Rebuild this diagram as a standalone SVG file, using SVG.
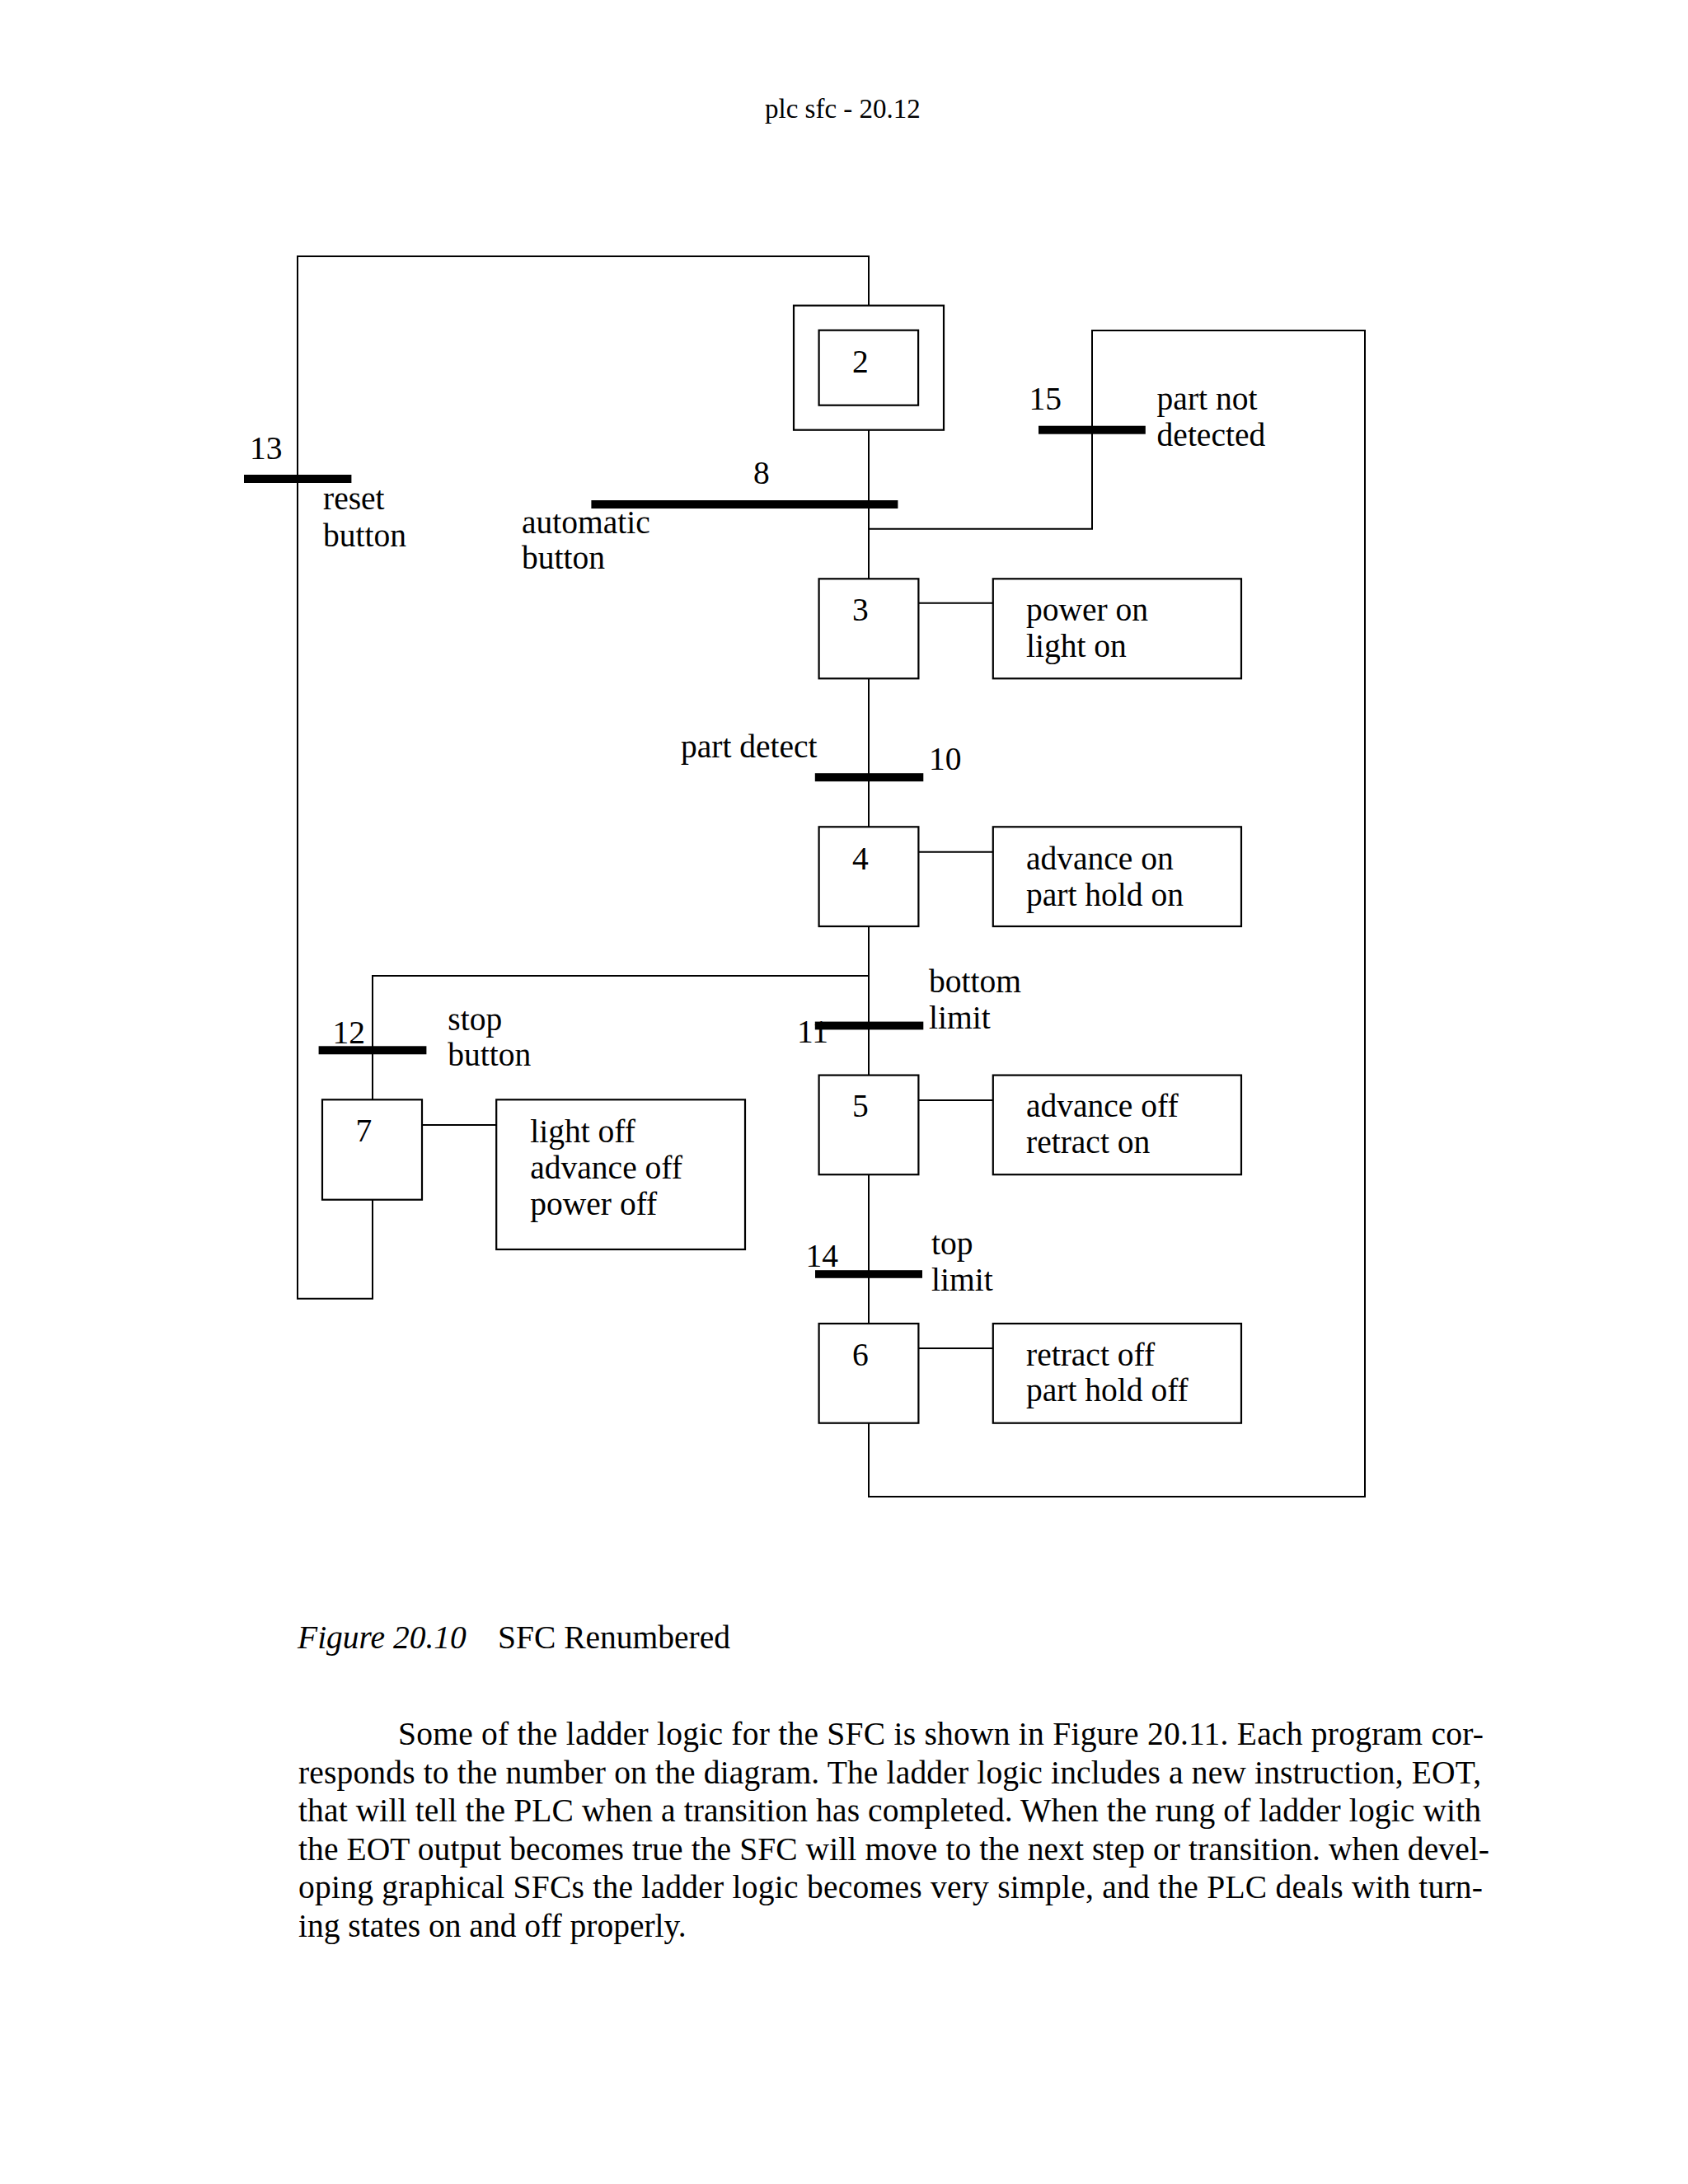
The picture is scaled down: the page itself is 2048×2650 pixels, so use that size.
<svg xmlns="http://www.w3.org/2000/svg" width="2048" height="2650" viewBox="0 0 2048 2650">
<style>
text{font-family:"Liberation Serif","Times New Roman",serif;font-size:39.5px;fill:#000}
.hdr{font-size:33px}
.box{fill:none;stroke:#000;stroke-width:2.2}
.ln{fill:none;stroke:#000;stroke-width:2}
.bar{fill:#000}
.it{font-style:italic}
</style>
<rect width="2048" height="2650" fill="#fff"/>
<text class="hdr" x="928" y="143">plc sfc - 20.12</text>

<g id="connectors">
<path class="ln" d="M1054 370.7 V311 H361 V1575.7 H452 V1455.7"/>
<path class="ln" d="M1054 521.7 V702.3"/>
<path class="ln" d="M1054 641.7 H1325 V401 H1656 V1816 H1054 V1726.7"/>
<path class="ln" d="M1054 823.3 V1003"/>
<path class="ln" d="M1054 1124 V1304.6"/>
<path class="ln" d="M1054 1184 H452 V1334.3"/>
<path class="ln" d="M1054 1425.2 V1606"/>
<path class="ln" d="M1114.4 731.7 H1204.8"/>
<path class="ln" d="M1114.4 1033.7 H1204.8"/>
<path class="ln" d="M1114.4 1335 H1204.8"/>
<path class="ln" d="M1114.4 1636 H1204.8"/>
<path class="ln" d="M512 1365 H602.2"/>
</g>

<g id="step2">
<rect class="box" x="963" y="370.7" width="182" height="151"/>
<rect class="box" x="993.6" y="400.7" width="120.5" height="91"/>
<text x="1034" y="452">2</text>
</g>
<g id="step3">
<rect class="box" x="993.6" y="702.3" width="120.8" height="121"/>
<text x="1034" y="753">3</text>
</g>
<g id="action3">
<rect class="box" x="1204.8" y="702.3" width="301.2" height="121"/>
<text x="1245" y="752.7">power on</text>
<text x="1245" y="796.7">light on</text>
</g>
<g id="step4">
<rect class="box" x="993.6" y="1003.3" width="120.8" height="120.7"/>
<text x="1034" y="1054.7">4</text>
</g>
<g id="action4">
<rect class="box" x="1204.8" y="1003.3" width="301.2" height="120.7"/>
<text x="1245" y="1054.7">advance on</text>
<text x="1245" y="1098.8">part hold on</text>
</g>
<g id="step5">
<rect class="box" x="993.6" y="1304.6" width="120.8" height="120.6"/>
<text x="1034" y="1355">5</text>
</g>
<g id="action5">
<rect class="box" x="1204.8" y="1304.6" width="301.2" height="120.6"/>
<text x="1245" y="1355">advance off</text>
<text x="1245" y="1399">retract on</text>
</g>
<g id="step6">
<rect class="box" x="993.6" y="1606" width="120.8" height="120.7"/>
<text x="1034" y="1656.7">6</text>
</g>
<g id="action6">
<rect class="box" x="1204.8" y="1606" width="301.2" height="120.7"/>
<text x="1245" y="1656.7">retract off</text>
<text x="1245" y="1700">part hold off</text>
</g>
<g id="step7">
<rect class="box" x="391" y="1334.3" width="121" height="121.4"/>
<text x="431.6" y="1385">7</text>
</g>
<g id="action7">
<rect class="box" x="602.2" y="1334.3" width="301.8" height="181.7"/>
<text x="643.3" y="1386">light off</text>
<text x="643.3" y="1430">advance off</text>
<text x="643.3" y="1474">power off</text>
</g>

<g id="transition13">
<rect class="bar" x="296" y="576" width="130.4" height="10"/>
<text x="303" y="557">13</text>
<text x="392" y="618">reset</text>
<text x="392" y="663">button</text>
</g>
<g id="transition8">
<rect class="bar" x="717.4" y="607" width="372" height="10"/>
<text x="914" y="587">8</text>
<text x="633" y="647">automatic</text>
<text x="633" y="690">button</text>
</g>
<g id="transition15">
<rect class="bar" x="1260" y="516.7" width="129.8" height="10"/>
<text x="1248.4" y="497">15</text>
<text x="1403.6" y="497">part not</text>
<text x="1403.6" y="541">detected</text>
</g>
<g id="transition10">
<rect class="bar" x="988.8" y="938.2" width="131.5" height="10"/>
<text x="826" y="919">part detect</text>
<text x="1127" y="934">10</text>
</g>
<g id="transition11">
<text x="967" y="1265">11</text>
<rect class="bar" x="988.8" y="1239.6" width="131.5" height="9.8"/>
<text x="1127" y="1204">bottom</text>
<text x="1127" y="1248">limit</text>
</g>
<g id="transition12">
<rect class="bar" x="386.6" y="1269.3" width="130.8" height="10"/>
<text x="403.6" y="1265.7">12</text>
<text x="543.3" y="1250">stop</text>
<text x="543.3" y="1293">button</text>
</g>
<g id="transition14">
<rect class="bar" x="989" y="1541.2" width="130" height="9.6"/>
<text x="977.5" y="1536.5">14</text>
<text x="1130" y="1521.7">top</text>
<text x="1130" y="1565.7">limit</text>
</g>

<text x="361" y="2000"><tspan class="it">Figure 20.10</tspan></text>
<text x="604" y="2000">SFC Renumbered</text>

<text x="483" y="2116.7" textLength="1317" lengthAdjust="spacing">Some of the ladder logic for the SFC is shown in Figure 20.11. Each program cor-</text>
<text x="362" y="2164" textLength="1435" lengthAdjust="spacing">responds to the number on the diagram. The ladder logic includes a new instruction, EOT,</text>
<text x="362" y="2210" textLength="1435" lengthAdjust="spacing">that will tell the PLC when a transition has completed. When the rung of ladder logic with</text>
<text x="362" y="2256.7" textLength="1445" lengthAdjust="spacing">the EOT output becomes true the SFC will move to the next step or transition. when devel-</text>
<text x="362" y="2303.3" textLength="1437" lengthAdjust="spacing">oping graphical SFCs the ladder logic becomes very simple, and the PLC deals with turn-</text>
<text x="362" y="2350">ing states on and off properly.</text>
</svg>
